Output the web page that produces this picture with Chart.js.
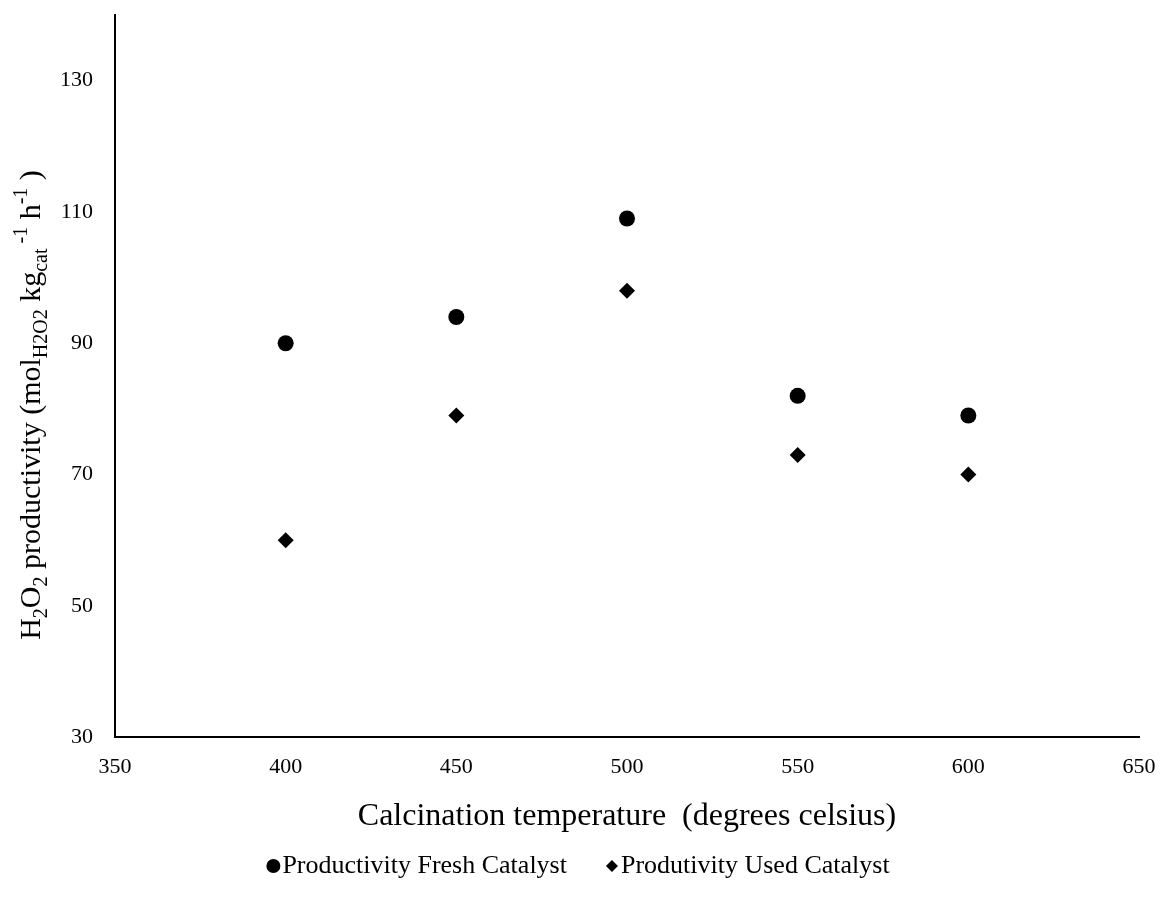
<!DOCTYPE html>
<html>
<head>
<meta charset="utf-8">
<script src="https://cdn.jsdelivr.net/npm/chart.js@4/dist/chart.umd.min.js"></script>
<style>
  html, body { margin: 0; padding: 0; background: #fff; }
  #wrap { width: 1163px; height: 911px; }
</style>
</head>
<body>
<div id="wrap"><canvas id="chart"></canvas></div>
<script>
const temps = [400, 450, 500, 550, 600];
const freshVals = [90, 94, 109, 82, 79];
const usedVals = [60, 79, 98, 73, 70];
const xTicks = [350, 400, 450, 500, 550, 600, 650];
const yTicks = [30, 50, 70, 90, 110, 130];

const serif = '"Liberation Serif", "Times New Roman", serif';

// rotated y title with sub/superscripts
const yTitlePlugin = {
  id: 'yTitle',
  afterDraw(chart) {
    const ctx = chart.ctx;
    const big = 30, small = 20;
    const parts = [
      ['H', big, 0], ['2', small, 7], ['O', big, 0], ['2', small, 7],
      [' productivity (mol', big, 0], ['H2O2', small, 7], [' kg', big, 0],
      ['cat', small, 7], [' -1', small, -13], [' h', big, 0], ['-1', small, -13], [' )', big, 0]
    ];
    ctx.save();
    let total = 0;
    parts.forEach(p => { ctx.font = p[1] + 'px ' + serif; total += ctx.measureText(p[0]).width; });
    ctx.translate(40, 405);
    ctx.rotate(-Math.PI / 2);
    ctx.fillStyle = '#000';
    ctx.textBaseline = 'alphabetic';
    let x = -total / 2;
    parts.forEach(p => {
      ctx.font = p[1] + 'px ' + serif;
      ctx.fillText(p[0], x, p[2]);
      x += ctx.measureText(p[0]).width;
    });
    ctx.restore();
  }
};

// legend row under the x title: small marker, text tight against it
const legendRowPlugin = {
  id: 'legendRow',
  afterDraw(chart) {
    const ctx = chart.ctx;
    const y = 866, r = 7, textGap = 9, itemGap = 38;
    ctx.save();
    ctx.font = '26px ' + serif;
    ctx.textBaseline = 'middle';
    ctx.fillStyle = '#000';
    ctx.strokeStyle = '#000';
    const items = chart.data.datasets.map(ds => ({ label: ds.label, style: ds.pointStyle, w: ctx.measureText(ds.label).width }));
    const total = items.reduce((s, it) => s + r + textGap + it.w, 0) + itemGap * (items.length - 1);
    let x = chart.width / 2 - total / 2;
    items.forEach(it => {
      const rad = it.style === 'rectRot' ? r - 1 : r;
      Chart.helpers.drawPoint(ctx, { pointStyle: it.style, radius: rad, rotation: 0, borderWidth: 0 }, x + r / 2, y);
      ctx.fillText(it.label, x + r / 2 + textGap, y);
      x += r + textGap + it.w + itemGap;
    });
    ctx.restore();
  }
};

new Chart(document.getElementById('chart'), {
  type: 'scatter',
  data: {
    datasets: [
      {
        label: 'Productivity Fresh Catalyst',
        data: temps.map((t, i) => ({ x: t, y: freshVals[i] })),
        pointStyle: 'circle', pointRadius: 8, pointHoverRadius: 8,
        backgroundColor: '#000', borderColor: '#000', borderWidth: 0
      },
      {
        label: 'Produtivity Used Catalyst',
        data: temps.map((t, i) => ({ x: t, y: usedVals[i] })),
        pointStyle: 'rectRot', pointRadius: 8, pointHoverRadius: 8,
        backgroundColor: '#000', borderColor: '#000', borderWidth: 0
      }
    ]
  },
  options: {
    responsive: true, maintainAspectRatio: false, animation: false,
    layout: { padding: { left: 38, right: 24, top: 15, bottom: 75 } },
    plugins: {
      tooltip: { enabled: false },
      legend: { display: false }
    },
    scales: {
      x: {
        type: 'linear', min: 350, max: 650,
        afterBuildTicks: s => { s.ticks = xTicks.map(v => ({ value: v })); },
        afterFit: s => { s.paddingRight = 0; },
        grid: { display: false, drawTicks: false },
        border: { color: '#000', width: 2 },
        ticks: { color: '#000', padding: 17, font: { family: serif, size: 22 } },
        title: {
          display: true, text: 'Calcination temperature  (degrees celsius)',
          color: '#000', font: { family: serif, size: 32 }, padding: { top: 0, bottom: 0 }
        }
      },
      y: {
        type: 'linear', min: 30, max: 140,
        afterBuildTicks: s => { s.ticks = yTicks.map(v => ({ value: v })); },
        afterFit: s => { s.paddingTop = 0; },
        grid: { display: false, drawTicks: false },
        border: { color: '#000', width: 2 },
        ticks: { color: '#000', padding: 22, font: { family: serif, size: 22 } }
      }
    }
  },
  plugins: [yTitlePlugin, legendRowPlugin]
});
</script>
</body>
</html>
